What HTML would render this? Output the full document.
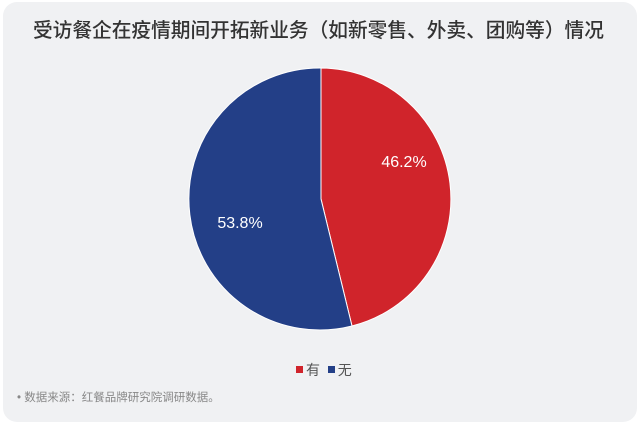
<!DOCTYPE html>
<html><head><meta charset="utf-8"><style>
html,body{margin:0;padding:0;background:#fff;width:640px;height:415px;overflow:hidden}
.card{position:absolute;left:3px;top:2px;width:634px;height:420px;background:#f0f1f3;border-radius:14px}
.t{position:absolute;left:33px;top:14px;font:500 19.7px "Liberation Sans","Noto Sans CJK SC",sans-serif;color:#333;white-space:nowrap}
.f{position:absolute;left:17px;top:389px;font:11.5px "Liberation Sans","Noto Sans CJK SC",sans-serif;color:#888}
.lg{position:absolute;left:296px;top:360px;font:14px "Liberation Sans","Noto Sans CJK SC",sans-serif;color:#555}
.sq{display:inline-block;width:7px;height:7px;margin-right:3px;vertical-align:2px}
</style></head><body>
<div class="card"></div>
<div class="t">受访餐企在疫情期间开拓新业务（如新零售、外卖、团购等）情况</div>
<svg width="640" height="415" style="position:absolute;left:0;top:0">
<path d="M321,199 L321,68 A131,131 0 0 1 352,326 Z" fill="#d0242b" stroke="#fff" stroke-width="1"/>
<path d="M321,199 L352,326 A131,131 0 1 1 321,68 Z" fill="#233f87" stroke="#fff" stroke-width="1"/>
<text x="404" y="167" fill="#fff" font-family="Liberation Sans, sans-serif" font-size="16" text-anchor="middle">46.2%</text>
<text x="240" y="228" fill="#fff" font-family="Liberation Sans, sans-serif" font-size="16" text-anchor="middle">53.8%</text>
</svg>
<div class="lg"><span class="sq" style="background:#d0242b"></span>有 &nbsp;<span class="sq" style="background:#233f87"></span>无</div>
<div class="f">• 数据来源：红餐品牌研究院调研数据。</div>
</body></html>
